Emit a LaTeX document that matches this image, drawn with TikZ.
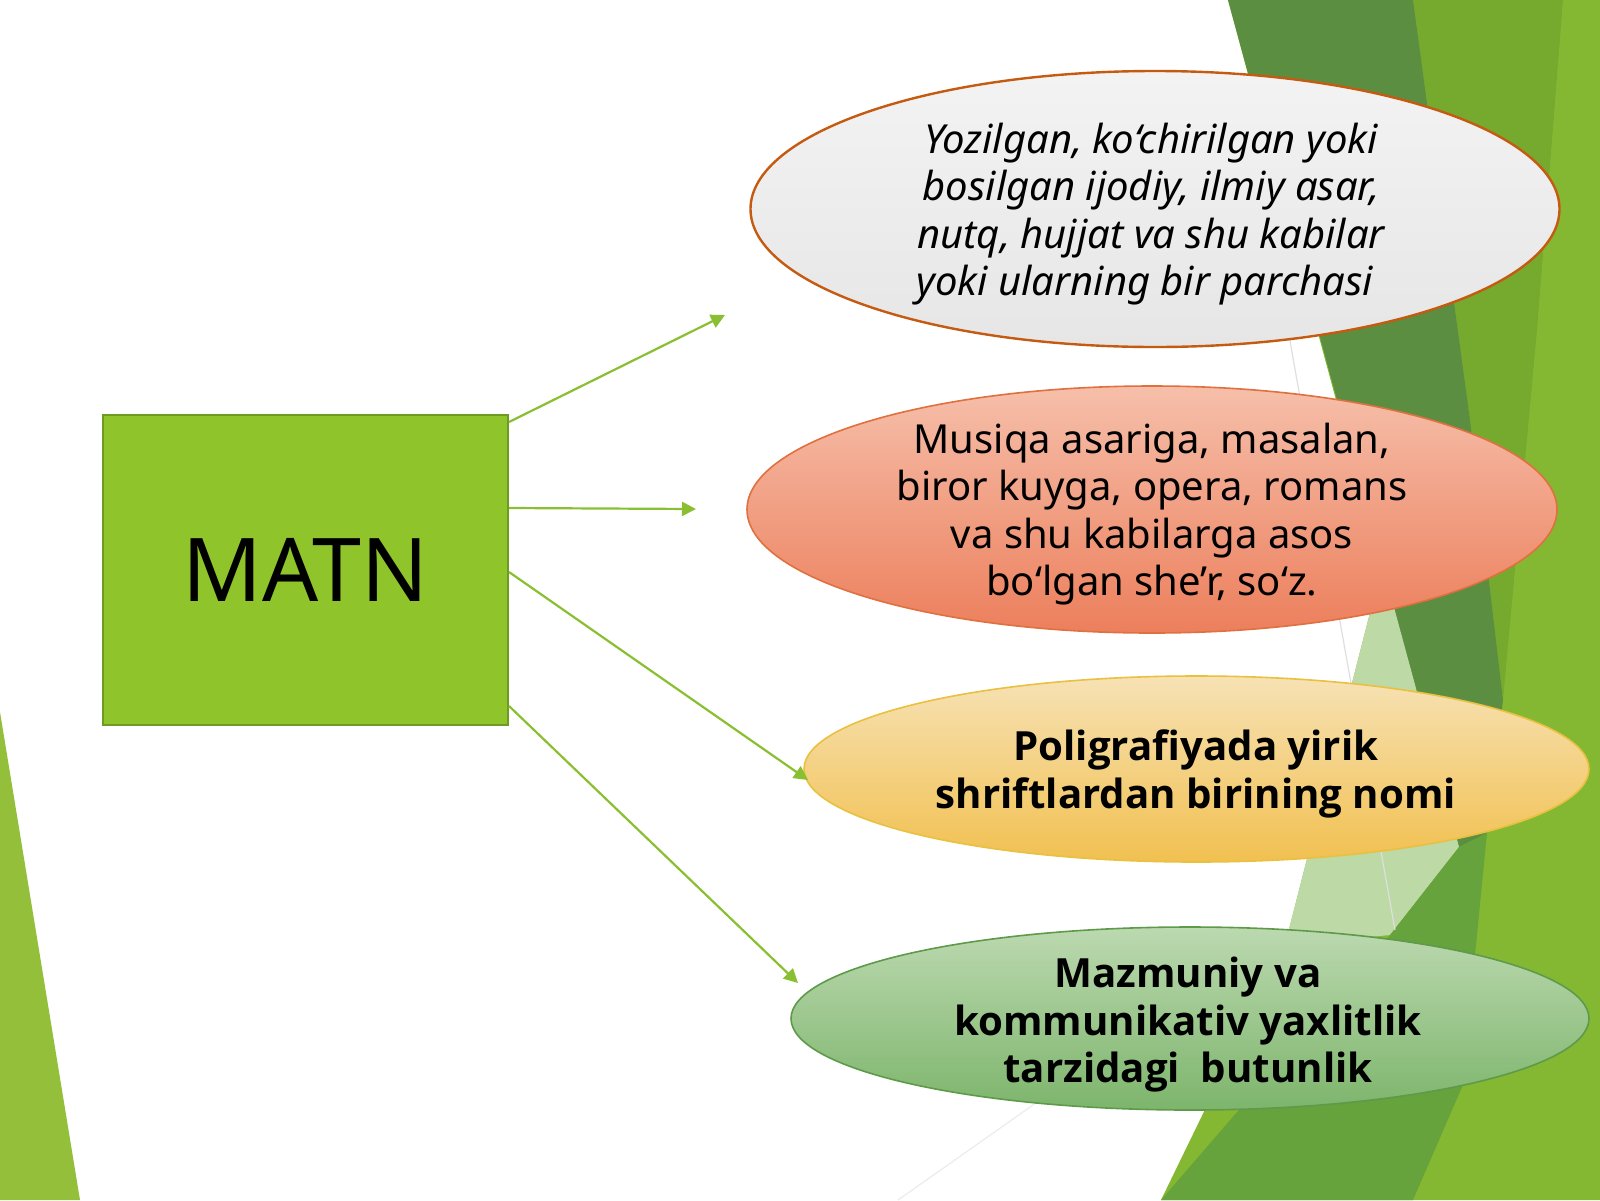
\documentclass[tikz,border=0pt]{standalone}
\usepackage{fontspec}
\setmainfont{Noto Sans}
\newfontfamily\boldfam{Open Sans}
\usetikzlibrary{shapes.geometric,arrows.meta,calc}
\definecolor{bgLight}{HTML}{85B832}
\definecolor{bgMid}{HTML}{76AA2E}
\definecolor{bgDark}{HTML}{5B8E40}
\definecolor{bgTri}{HTML}{66A33C}
\definecolor{bgPale}{HTML}{BDD9A6}
\definecolor{bgLeft}{HTML}{93BF3B}
\definecolor{boxFill}{HTML}{8FC42A}
\definecolor{boxLine}{HTML}{6E9C23}
\definecolor{arrowGreen}{HTML}{8BBF32}
\definecolor{eOneLine}{HTML}{C55A11}
\definecolor{eOneTop}{HTML}{F3F3F3}
\definecolor{eOneBot}{HTML}{E6E6E6}
\definecolor{eTwoLine}{HTML}{E0703F}
\definecolor{eTwoTop}{HTML}{F6BFAA}
\definecolor{eTwoBot}{HTML}{EC7F5C}
\definecolor{eThreeLine}{HTML}{E9C040}
\definecolor{eThreeTop}{HTML}{F7E2B5}
\definecolor{eThreeBot}{HTML}{F1C050}
\definecolor{eFourLine}{HTML}{5E9A4A}
\definecolor{eFourTop}{HTML}{BCD9B0}
\definecolor{eFourBot}{HTML}{7DB56C}
\tikzset{
  bubble/.style={ellipse, inner sep=0pt, shading=axis},
  bubbletext/.style={align=center, inner sep=0pt, text=black,
    font=\fontsize{20pt}{23.75pt}\selectfont},
  boldtext/.style={align=center, inner sep=0pt, text=black,
    font=\boldfam\bfseries\fontsize{20.1pt}{23.75pt}\selectfont},
  arr/.style={draw=arrowGreen, line width=1.1pt, -{Triangle[length=7pt,width=7pt]}},
  facetline/.style={draw=gray!25, line width=0.6pt}
}
\begin{document}
\begin{tikzpicture}[x=0.5pt,y=-0.5pt]
\useasboundingbox (0,0) rectangle (1600,1200);
\fill[white] (0,0) rectangle (1600,1200);
% background facets
\fill[bgLight] (1228,0) -- (1600,0) -- (1600,1200) -- (1161,1200) -- (1285,945) -- (1372,605) -- (1390,600) -- cycle;
\fill[bgMid] (1413,0) -- (1563,0) -- (1537,330) -- (1503,700) -- (1470,420) -- cycle;
\fill[bgDark] (1228,0) -- (1413,0) -- (1470,420) -- (1503,700) -- (1487,833) -- (1459,847) -- cycle;
\fill[bgPale] (1285,945) -- (1372,605) -- (1392,600) -- (1459,847) -- (1390,935) -- cycle;
\fill[bgTri] (1459,847) -- (1487,833) -- (1477,935) -- (1462,1087) -- (1413,1200) -- (1161,1200) -- (1390,935) -- cycle;
\draw[facetline] (1288,330) -- (1395,930);
\draw[draw=gray!15, line width=0.6pt] (1040,1100) -- (898,1200);
\fill[bgLeft] (0,712) -- (80,1200) -- (0,1200) -- cycle;

% main box
\node[draw=boxLine, line width=1pt, fill=boxFill, minimum width=202.5pt, minimum height=155pt,
      inner sep=0pt, font=\fontsize{44pt}{50pt}\selectfont, text=black] (box) at (305.5,570) {MATN};

% ellipses
\node[bubble, draw=eOneLine, line width=1.2pt, top color=eOneTop, bottom color=eOneBot,
      minimum width=404.5pt, minimum height=138pt] (e1) at (1155,209) {};
\node[bubble, draw=eTwoLine, line width=0.8pt, top color=eTwoTop, bottom color=eTwoBot,
      minimum width=405pt, minimum height=123.5pt] (e2) at (1152,509.5) {};
\node[bubble, draw=eThreeLine, line width=0.8pt, top color=eThreeTop, bottom color=eThreeBot,
      minimum width=392.5pt, minimum height=93pt] (e3) at (1196.5,769) {};
\node[bubble, draw=eFourLine, line width=0.8pt, top color=eFourTop, bottom color=eFourBot,
      minimum width=399pt, minimum height=91.5pt] (e4) at (1190,1018.5) {};

% texts
\node[bubbletext, font=\fontsize{20pt}{23.75pt}\selectfont\itshape] (t1) at (1151,214)
  {Yozilgan, ko‘chirilgan yoki\\bosilgan ijodiy, ilmiy asar,\\nutq, hujjat va shu kabilar\\yoki ularning bir parchasi\kern0.3em};
\node[bubbletext] (t2) at (1152,514)
  {Musiqa asariga, masalan,\\biror kuyga, opera, romans\\va shu kabilarga asos\\bo‘lgan she’r, so‘z.};
\node[boldtext] (t3) at (1196,774)
  {Poligrafiyada yirik\\shriftlardan birining nomi};
\node[boldtext] (t4) at (1188,1025)
  {Mazmuniy va\\kommunikativ yaxlitlik\\tarzidagi~ butunlik};

% arrow tips
\coordinate (a1) at (725,315);
\coordinate (a2) at (696,509);
\coordinate (a3) at (808,780);
\coordinate (a4) at (798,983);
\draw[arr] ($(box.north east)+(0,8)$) -- (a1);
\draw[arr] ($(box.north east)+(0,94)$) -- (a2);
\draw[arr] ($(box.north east)+(0,158)$) -- (a3);
\draw[arr] ($(box.north east)+(0,292)$) -- (a4);
\end{tikzpicture}
\end{document}
